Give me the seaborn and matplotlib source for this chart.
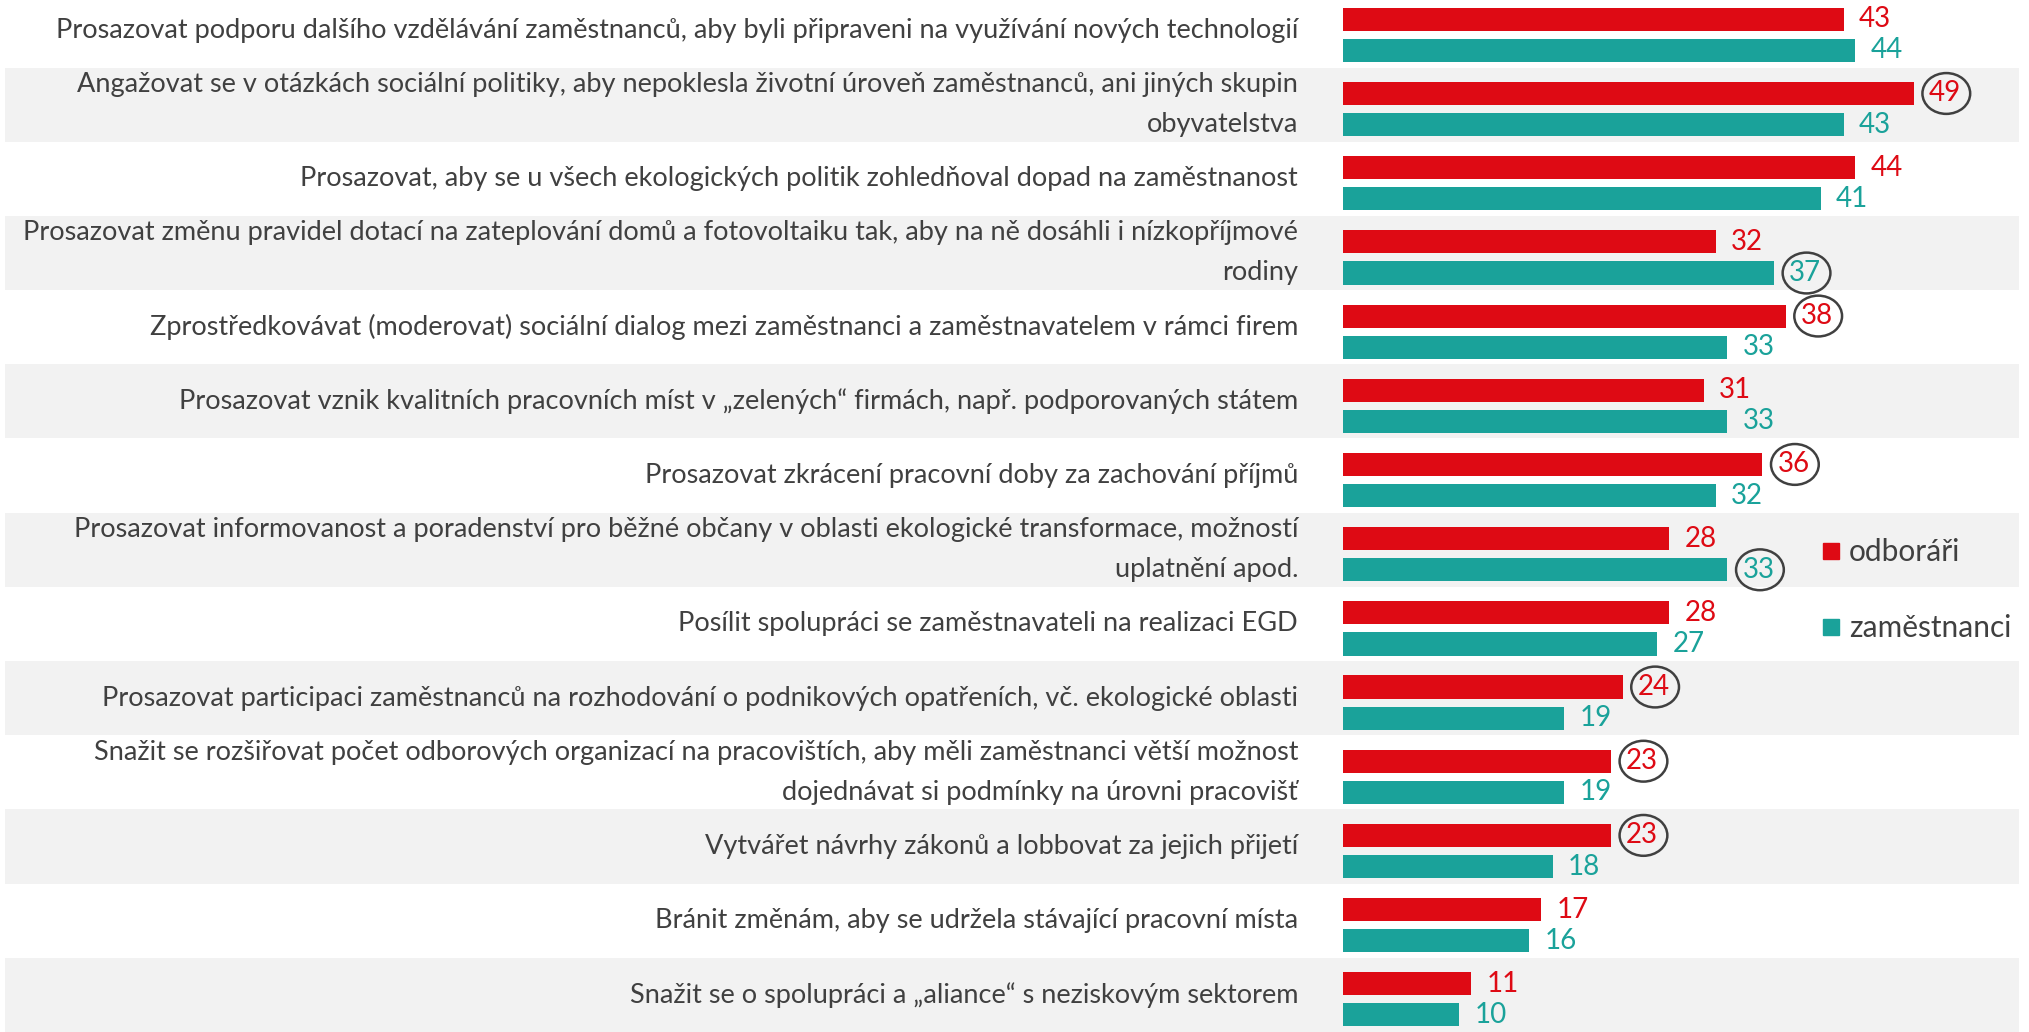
import numpy as np
import pandas as pd
import seaborn as sns
import matplotlib.pyplot as plt
from matplotlib.patches import Ellipse
from matplotlib.lines import Line2D

labels = [
    "Prosazovat podporu dalšího vzdělávání zaměstnanců, aby byli připraveni na využívání nových technologií",
    "Angažovat se v otázkách sociální politiky, aby nepoklesla životní úroveň zaměstnanců, ani jiných skupin\nobyvatelstva",
    "Prosazovat, aby se u všech ekologických politik zohledňoval dopad na zaměstnanost",
    "Prosazovat změnu pravidel dotací na zateplování domů a fotovoltaiku tak, aby na ně dosáhli i nízkopříjmové\nrodiny",
    "Zprostředkovávat (moderovat) sociální dialog mezi zaměstnanci a zaměstnavatelem v rámci firem",
    "Prosazovat vznik kvalitních pracovních míst v „zelených“ firmách, např. podporovaných státem",
    "Prosazovat zkrácení pracovní doby za zachování příjmů",
    "Prosazovat informovanost a poradenství pro běžné občany v oblasti ekologické transformace, možností\nuplatnění apod.",
    "Posílit spolupráci se zaměstnavateli na realizaci EGD",
    "Prosazovat participaci zaměstnanců na rozhodování o podnikových opatřeních, vč. ekologické oblasti",
    "Snažit se rozšiřovat počet odborových organizací na pracovištích, aby měli zaměstnanci větší možnost\ndojednávat si podmínky na úrovni pracovišť",
    "Vytvářet návrhy zákonů a lobbovat za jejich přijetí",
    "Bránit změnám, aby se udržela stávající pracovní místa",
    "Snažit se o spolupráci a „aliance“ s neziskovým sektorem",
]
odborari = [43, 49, 44, 32, 38, 31, 36, 28, 28, 24, 23, 23, 17, 11]
zamestnanci = [44, 43, 41, 37, 33, 33, 32, 33, 27, 19, 19, 18, 16, 10]
# kroužkované hodnoty (index řádku)
circled_odb = [1, 4, 6, 9, 10, 11]
circled_zam = [3, 7]

groups = ["odboráři", "zaměstnanci"]
red = "#DE0A14"
teal = "#1AA29A"
txt = "#404040"

df = pd.DataFrame({
    "label": labels * 2,
    "value": odborari + zamestnanci,
    "group": [groups[0]] * len(labels) + [groups[1]] * len(labels),
})

fig = plt.figure(figsize=(20.29, 10.32), dpi=100)
ax = fig.add_axes([0, 0, 1, 1])
plt.rcParams["font.family"] = ["Lato", "DejaVu Sans"]

sns.barplot(data=df, y="label", x="value", hue="group", orient="h",
            palette=[red, teal], width=0.84, gap=0.26, legend=False, ax=ax,
            saturation=1)

# pruhy pozadí
shift = 0.06
for i in range(len(labels)):
    if i % 2 == 1:
        ax.axhspan(i - 0.5 - shift, i + 0.5 - shift, xmin=0.0025, xmax=0.995,
                   color="#F2F2F2", zorder=0, lw=0)
    ax.text(-3.86, i - shift, labels[i], ha="right", va="center",
            fontsize=19.5, color=txt, linespacing=1.75)

for cont, col in zip(ax.containers, [red, teal]):
    ax.bar_label(cont, padding=11, color=col, fontsize=20)

for cont, idx, vals in zip(ax.containers, [circled_odb, circled_zam], [odborari, zamestnanci]):
    for i in idx:
        p = cont.patches[i]
        yc = p.get_y() + p.get_height() / 2
        ax.add_patch(Ellipse((vals[i] + 2.8, yc), 4.1, 0.55, fill=False,
                             edgecolor="#404040", lw=1.8, zorder=5))

ax.set_xlim(-115.3, 58.9)
ax.set_ylim(13.44, -0.47)
ax.axis("off")

handles = [Line2D([], [], marker="s", linestyle="none", markersize=11.5,
                  markerfacecolor=c, markeredgecolor=c) for c in [red, teal]]
ax.legend(handles, groups, loc="center left", bbox_to_anchor=(0.885, 0.428),
          frameon=False, fontsize=21.5, labelcolor=txt, handlelength=0.6,
          handletextpad=0.29, labelspacing=1.6)

fig.savefig("out.png", dpi=100, facecolor="white")
